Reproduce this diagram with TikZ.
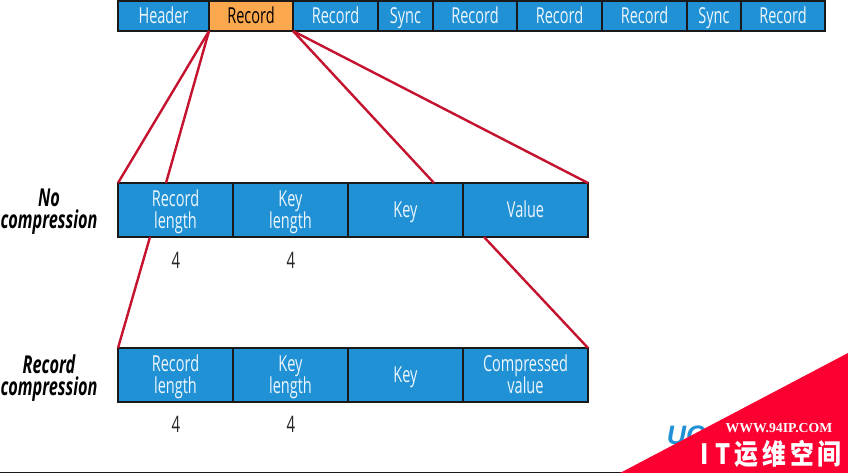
\documentclass[tikz,border=0pt]{standalone}
\usepackage{fontspec}
\setmainfont{Open Sans}[FakeStretch=0.66]
\newfontfamily\cjk{Noto Sans CJK SC}[FakeStretch=0.85]
\newfontfamily\wmfont{Liberation Serif}
\newfontfamily\logofont{Liberation Sans}
\definecolor{cellblue}{HTML}{2191D6}
\definecolor{cellorange}{HTML}{FBA84E}
\definecolor{linkred}{HTML}{C4122F}
\definecolor{wmred}{HTML}{FB0030}
\tikzset{
  cell/.style={draw=black!90,line width=2pt,fill=cellblue,text=white!92!cellblue,inner sep=0pt,outer sep=0pt,align=center,font=\fontsize{16.5pt}{16.5pt}\selectfont,anchor=north west},
  lnk/.style={draw=linkred,line width=1.8pt},
  side/.style={font=\fontsize{18.5pt}{16.5pt}\selectfont\bfseries\itshape,align=center,text=black},
  num/.style={font=\fontsize{17pt}{17pt}\selectfont,text=black!85}
}
\newcommand{\cellnode}[7][]{\node[cell,#1,minimum width=#6*0.75pt,minimum height=#7*0.75pt] (#2) at (#3,#4) {\rule{0pt}{14.8pt}#5\vphantom{y}};}
\begin{document}
\begin{tikzpicture}[x=0.75pt,y=-0.75pt]
\useasboundingbox (0,0) rectangle (848,473);
\fill[white] (0,0) rectangle (848,473);
\coordinate (rowtwoA) at (166,183);
\coordinate (rowtwoK) at (434,183);
\coordinate (rowthreeBL) at (118,348);
\coordinate (rowtwoLow) at (150,237);
\coordinate (rowtwoVal) at (484,237);
% top row
\cellnode{t1}{118}{1}{Header}{91}{30}
\cellnode[fill=cellorange,text=black]{t2}{209}{1}{Record}{84}{30}
\cellnode{t3}{293}{1}{Record}{85}{30}
\cellnode{t4}{378}{1}{Sync}{55}{30}
\cellnode{t5}{433}{1}{Record}{84}{30}
\cellnode{t6}{517}{1}{Record}{85}{30}
\cellnode{t7}{602}{1}{Record}{85}{30}
\cellnode{t8}{687}{1}{Sync}{54}{30}
\cellnode{t9}{741}{1}{Record}{84}{30}
% row 2
\cellnode{a1}{118}{183}{Record\\length}{115}{54}
\cellnode{a2}{233}{183}{Key\\length}{115}{54}
\cellnode{a3}{348}{183}{Key}{115}{54}
\cellnode{a4}{463}{183}{Value}{125}{54}
% row 3
\cellnode{b1}{118}{348}{Record\\length}{115}{54}
\cellnode{b2}{233}{348}{Key\\length}{115}{54}
\cellnode{b3}{348}{348}{Key}{115}{54}
\cellnode{b4}{463}{348}{Compressed\\value}{125}{54}
% links
\draw[lnk] (t2.south west) -- (a1.north west);
\draw[lnk] (t2.south west) -- (rowtwoA);
\draw[lnk] (t2.south east) -- (rowtwoK);
\draw[lnk] (t2.south east) -- (a4.north east);
\draw[lnk] (rowtwoLow) -- (rowthreeBL);
\draw[lnk] (rowtwoVal) -- (b4.north east);
% labels
\node[side] (l1) at (49,212) {No\\compression};
\node[side] (l2) at (49,378) {Record\\compression};
\node[num] (n1) at (176,260) {4};
\node[num] (n2) at (291,260) {4};
\node[num] (n3) at (176,424) {4};
\node[num] (n4) at (291,424) {4};
% bottom edge
\fill[black!90] (0,471.6) rectangle (848,473);
% watermark
\node[text=cellblue,font=\logofont\bfseries\itshape\fontsize{20pt}{20pt}\selectfont] (logo) at (686,435) {UC};
\fill[wmred] (620,473) -- (848,353) -- (848,473) -- cycle;
\node[text=white,font=\wmfont\bfseries\fontsize{10.3pt}{10pt}\selectfont] (w1) at (779,428) {WWW.94IP.COM};
\node[text=white,font=\cjk\bfseries\fontsize{21pt}{22pt}\selectfont] (w2) at (771,454) {I\hspace{5pt}T\hspace{3pt}运\hspace{3pt}维\hspace{3pt}空\hspace{3pt}间};
\end{tikzpicture}
\end{document}
